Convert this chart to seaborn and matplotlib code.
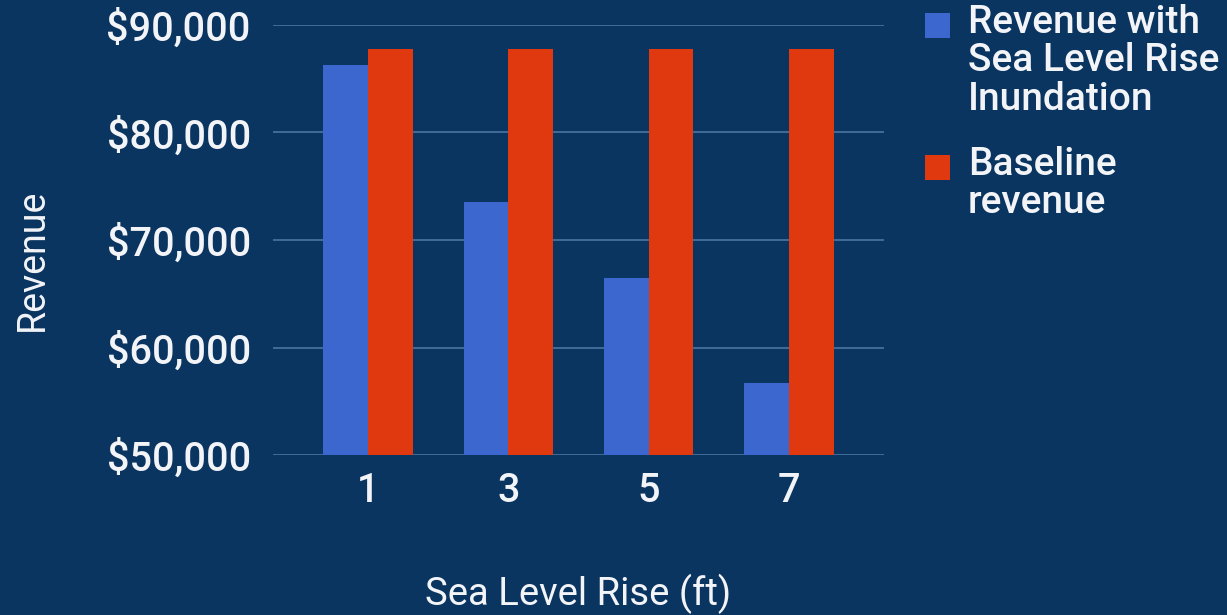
import matplotlib
matplotlib.use("Agg")
import matplotlib.pyplot as plt
import seaborn as sns
import pandas as pd
from matplotlib.patches import Rectangle
from matplotlib.ticker import FuncFormatter

# Data
sea_level_rise = ["1", "3", "5", "7"]
revenue_inundation = [86300, 73500, 66500, 56700]
baseline_revenue = [87800, 87800, 87800, 87800]
series_names = ["Revenue with\nSea Level Rise\nInundation", "Baseline\nrevenue"]
y_ticks = [50000, 60000, 70000, 80000, 90000]

bg = "#0b3561"
blue = "#3b67cf"
red = "#e0390f"
text_c = "#f2f4f7"
grid_c = "#4a74a3"

df = pd.DataFrame({
    "rise": sea_level_rise * 2,
    "value": revenue_inundation + baseline_revenue,
    "series": [series_names[0]] * 4 + [series_names[1]] * 4,
})

sns.set_theme(style="white")
plt.rcParams["font.family"] = ["Roboto", "DejaVu Sans"]
plt.rcParams["font.weight"] = 500

W, H = 1227, 615
fig = plt.figure(figsize=(W / 100, H / 100), dpi=100, facecolor=bg)
ax = fig.add_axes([273 / W, 1 - 455 / H, (884 - 273) / W, (455 - 25) / H])
ax.set_facecolor(bg)

sns.barplot(data=df, x="rise", y="value", hue="series", order=sea_level_rise,
            hue_order=series_names, palette=[blue, red], width=0.64,
            saturation=1, ax=ax, legend=False, zorder=3)
for p in ax.patches:
    p.set_edgecolor("none")

ax.set_ylim(50000, 90000)
ax.set_xlim(-0.68, 3.68)
ax.set_yticks(y_ticks)
ax.yaxis.set_major_formatter(FuncFormatter(lambda v, _: f"${v:,.0f}"))
ax.grid(axis="y", color=grid_c, linewidth=1.2, zorder=0)
ax.set_axisbelow(True)
for s in ax.spines.values():
    s.set_visible(False)
ax.tick_params(axis="both", length=0, colors=text_c, labelsize=28.5)
ax.tick_params(axis="y", pad=16)
ax.tick_params(axis="x", pad=12)

ax.set_xlabel("Sea Level Rise (ft)", color=text_c, fontsize=27.5)
ax.xaxis.set_label_coords(0.5, (21 - 160) / 430)
ax.xaxis.label.set_va("center")
ax.set_ylabel("Revenue", color=text_c, fontsize=27)
ax.yaxis.set_label_coords((32 - 273) / 611, (355 - 160) / 430)
ax.yaxis.label.set_va("center")

# Legend (manual, markers aligned with first text line)
colors = [blue, red]
first_line_centers = [25, 167]
for name, col, yc in zip(series_names, colors, first_line_centers):
    fig.patches.append(Rectangle((925 / W, 1 - (yc + 12.5) / H), 25 / W, 25 / H,
                                 transform=fig.transFigure, facecolor=col,
                                 edgecolor="none"))
    fig.text(968 / W, 1 - (yc - 21) / H, name, color=text_c, fontsize=28,
             ha="left", va="top", linespacing=1.05)

fig.savefig("out.png", dpi=100, facecolor=bg)
